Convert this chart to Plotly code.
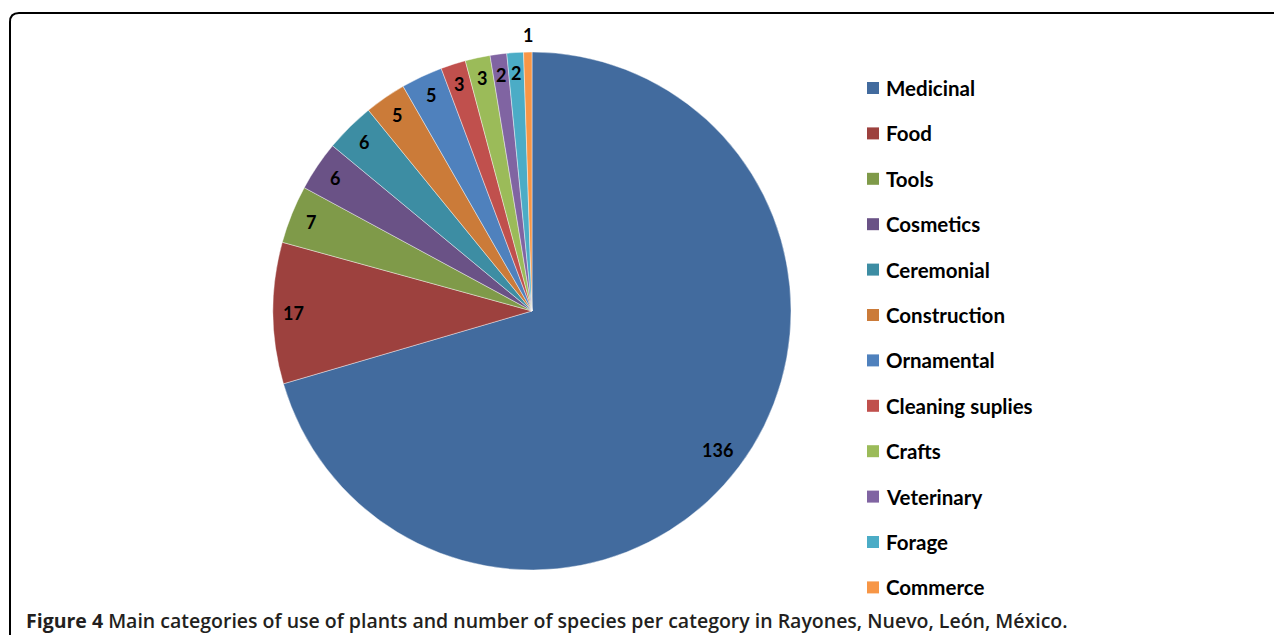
import math
import plotly.graph_objects as go

categories = ["Medicinal", "Food", "Tools", "Cosmetics", "Ceremonial", "Construction",
              "Ornamental", "Cleaning suplies", "Crafts", "Veterinary", "Forage", "Commerce"]
species = [136, 17, 7, 6, 6, 5, 5, 3, 3, 2, 2, 1]
colors = ["#426B9E", "#9D413E", "#7F9A49", "#6A5286", "#3D8DA3", "#CB7B39",
          "#4F81BD", "#C0504D", "#9BBB59", "#8064A2", "#4BACC6", "#F79646"]
caption_bold = "Figure 4"
caption_text = "Main categories of use of plants and number of species per category in Rayones, Nuevo, León, México."

OFF = 8  # page body margin
W, H = 1282 - OFF, 635 - OFF
CX, CY, R = 532, 311, 259  # pie centre / radius in screen pixels


def px(x):
    return (x - OFF) / W


def py(y):
    return 1 - (y - OFF) / H


fig = go.Figure()
fig.add_trace(go.Pie(
    labels=categories, values=species, sort=False, direction="clockwise",
    rotation=0, textinfo="none", showlegend=False,
    marker=dict(colors=colors, line=dict(color="rgba(255,255,255,0.6)", width=0.7)),
    domain=dict(x=[px(CX - R), px(CX + R)], y=[py(CY + R), py(CY - R)]),
))

annotations = []
total = sum(species)
cum = 0
for v in species:
    frac = v / total
    mid = (cum + v / 2) / total * 2 * math.pi
    cum += v
    f = 1.065 if frac < 0.008 else (0.895 if frac > 0.5 else 0.92)
    x = CX + R * f * math.sin(mid)
    y = CY - R * f * math.cos(mid)
    annotations.append(dict(x=px(x), y=py(y), xref="paper", yref="paper", text=str(v),
                            showarrow=False, xanchor="center", yanchor="middle",
                            font=dict(family="Lato", size=18, color="black", weight="bold")))

# legend
shapes = []
LX, LY0, LDY = 867, 88, 45.4
for i, (c, col) in enumerate(zip(categories, colors)):
    yc = LY0 + i * LDY
    shapes.append(dict(type="rect", xref="paper", yref="paper",
                       x0=px(LX), x1=px(LX + 12), y0=py(yc + 6), y1=py(yc - 6),
                       fillcolor=col, line=dict(width=0)))
    annotations.append(dict(x=px(884), y=py(yc), xref="paper", yref="paper", text=c,
                            showarrow=False, xanchor="left", yanchor="middle",
                            font=dict(family="Lato", size=20.5, color="black", weight="bold")))

# frame
r = 9
fx0, fy0 = 10, 13
shapes.append(dict(type="path", xref="paper", yref="paper",
                   path=(f"M {px(fx0)},{py(H + OFF + 5)} L {px(fx0)},{py(fy0 + r)} "
                         f"Q {px(fx0)},{py(fy0)} {px(fx0 + r)},{py(fy0)} L {px(W + OFF + 5)},{py(fy0)}"),
                   line=dict(color="black", width=2)))

annotations.append(dict(x=px(24), y=py(620), xref="paper", yref="paper",
                        text=f"<b>{caption_bold}</b> {caption_text}",
                        showarrow=False, xanchor="left", yanchor="middle",
                        font=dict(family="Open Sans", size=19.5, color="#231F20", weight=600)))

fig.update_layout(width=W, height=H, margin=dict(l=0, r=0, t=0, b=0),
                  paper_bgcolor="white", plot_bgcolor="white",
                  annotations=annotations, shapes=shapes)
fig.write_html("out.html")
